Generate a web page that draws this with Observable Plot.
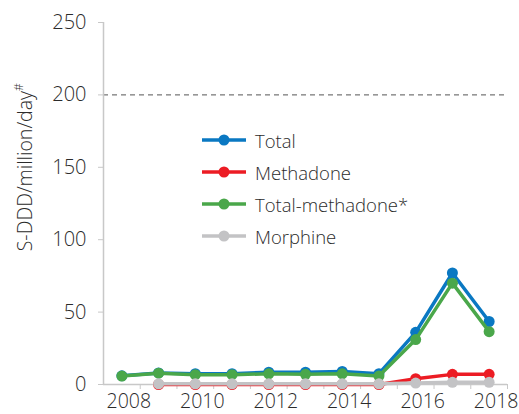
<!DOCTYPE html>
<html><head><meta charset="utf-8">
<script src="https://cdn.jsdelivr.net/npm/d3@7"></script>
<script src="https://cdn.jsdelivr.net/npm/@observablehq/plot@0.6"></script>
<style>
html,body{margin:0;padding:0;background:#fff;}
#wrap{position:relative;width:519px;height:414px;font-family:"Open Sans",sans-serif;}
#legend{position:absolute;left:201px;top:124px;font-size:18.5px;font-weight:350;color:#2b2b2b;}
#legend .row{display:flex;align-items:center;height:32px;}
#legend svg{margin-right:8px;}
svg text{font-weight:350;}
</style></head>
<body><div id="wrap"><div id="legend"></div></div>
<script>
const years = [2008,2009,2010,2011,2012,2013,2014,2015,2016,2017,2018];
const total = [6,8,7.5,7.5,8.5,8.5,9,7.5,36,77,43.5];
const methadone = [null,0,0,0,0,0,0,0,4,7,7];
const totalMinusMethadone = [5.8,7.8,6.8,6.8,7.4,7,7.4,5.8,31,70,36.5];
const morphine = [null,0.5,0.5,0.5,0.5,0.5,0.5,0.5,1,1.5,1.5];
const seriesNames = ["Total","Methadone","Total-methadone*","Morphine"];
const seriesColors = ["#0a78c2","#ec1c24","#4aa74a","#c3c3c5"];
const seriesValues = [total, methadone, totalMinusMethadone, morphine];
const yTicks = [0,50,100,150,200,250];
const xLabels = [2008,2010,2012,2014,2016,2018];
const refLine = 200;

const data = [];
seriesNames.forEach((s,i)=>years.forEach((y,j)=>{
  if (seriesValues[i][j] != null) data.push({series:s, year:y, value:seriesValues[i][j]});
}));
const boundaries = d3.range(years[0]-0.5+1, years[years.length-1]+0.5+0.001, 1);

const marks = [
  Plot.ruleY([refLine], {stroke:"#555", strokeDasharray:"5,4", strokeWidth:1}),
  Plot.ruleY([0], {stroke:"#c8c8c8", strokeWidth:1.5}),
  Plot.ruleX([years[0]-0.5], {y1:0, y2:250, stroke:"#c8c8c8", strokeWidth:1.5}),
  Plot.axisY({ticks:yTicks, tickSize:5, tickPadding:12, stroke:"#c8c8c8", fill:"#2b2b2b", fontSize:20, label:null}),
  Plot.axisX({ticks:boundaries, tickSize:5, tickFormat:()=>"", stroke:"#c8c8c8", label:null}),
  Plot.axisX({ticks:xLabels, tickSize:0, tickPadding:10, dx:7, tickFormat:d=>String(d), fill:"#2b2b2b", fontSize:19.5, label:null}),
];
seriesNames.forEach((s,i)=>{
  const d = data.filter(e=>e.series===s);
  marks.push(Plot.lineY(d, {x:"year", y:"value", stroke:seriesColors[i], strokeWidth:3.5}));
  marks.push(Plot.dot(d, {x:"year", y:"value", fill:seriesColors[i], r:5.5}));
});
marks.push(Plot.text(["S-DDD/million/day"], {frameAnchor:"left", textAnchor:"middle", y:150, dx:-78, rotate:-90, fontSize:19.5, fill:"#2b2b2b", text:d=>d, className:"ytitle"}));

const chart = Plot.plot({
  width:519, height:414,
  marginLeft:103, marginRight:12, marginTop:22, marginBottom:30,
  style:{fontFamily:"Open Sans, sans-serif", background:"#fff"},
  x:{domain:[years[0]-0.5, years[years.length-1]+0.5], axis:null},
  y:{domain:[0,250], axis:null},
  marks
});
document.getElementById("wrap").prepend(chart);
const t = d3.select(chart).select(".ytitle text");
t.append("tspan").attr("font-size",12).attr("dy","-0.7em").text("#");

const lg = d3.select("#legend");
seriesNames.forEach((s,i)=>{
  const r = lg.append("div").attr("class","row");
  const sv = r.append("svg").attr("width",46).attr("height",14);
  sv.append("line").attr("x1",1).attr("x2",45).attr("y1",7).attr("y2",7).attr("stroke",seriesColors[i]).attr("stroke-width",3.5);
  sv.append("circle").attr("cx",23).attr("cy",7).attr("r",5.5).attr("fill",seriesColors[i]);
  r.append("span").text(s);
});
</script></body></html>
